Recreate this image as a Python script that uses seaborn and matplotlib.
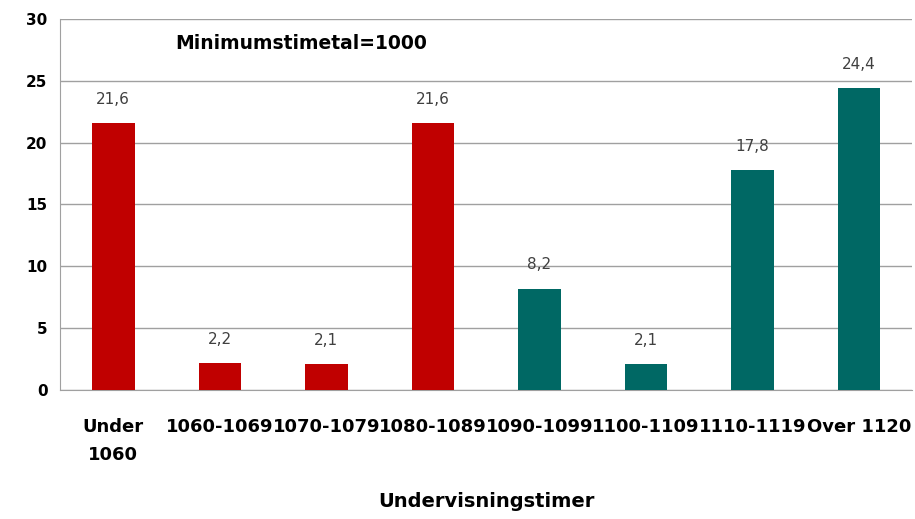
import numpy as np
import pandas as pd
import matplotlib
matplotlib.use("Agg")
import matplotlib.pyplot as plt
import seaborn as sns

# data
categories = ["Under\n1060", "1060-1069", "1070-1079", "1080-1089",
              "1090-1099", "1100-1109", "1110-1119", "Over 1120"]
values = [21.6, 2.2, 2.1, 21.6, 8.2, 2.1, 17.8, 24.4]
groups = ["a", "a", "a", "a", "b", "b", "b", "b"]
labels = ["21,6", "2,2", "2,1", "21,6", "8,2", "2,1", "17,8", "24,4"]

df = pd.DataFrame({"cat": categories, "val": values, "grp": groups})

sns.set_style("white")
plt.rcParams["font.family"] = ["DejaVu Sans"]
plt.rcParams["text.color"] = "black"
plt.rcParams["xtick.color"] = "black"
plt.rcParams["ytick.color"] = "black"
plt.rcParams["axes.labelcolor"] = "black"

fig = plt.figure(figsize=(9.15, 5.19), dpi=100)
ax = fig.add_axes([0.0656, 0.2486, 0.9314, 0.7148])

sns.barplot(data=df, x="cat", y="val", hue="grp",
            palette={"a": "#C00000", "b": "#006864"}, saturation=1,
            dodge=False, width=0.4, legend=False, linewidth=0, ax=ax, zorder=3)

for i, (v, t) in enumerate(zip(values, labels)):
    ax.text(i, v + 1.3, t, ha="center", va="bottom", fontsize=11, color="#404040")

ax.text(0.58, 28.0, "Minimumstimetal=1000", fontsize=13.5, fontweight="bold",
        ha="left", va="center", color="black")

ax.set_ylim(0, 30)
ax.set_xlim(-0.5, 7.5)
ax.set_yticks(np.arange(0, 31, 5))
ax.yaxis.grid(True, color="#a0a0a0", linewidth=1, zorder=0)
ax.set_axisbelow(True)

for s in ["top", "right"]:
    ax.spines[s].set_visible(False)
for s in ["left", "bottom"]:
    ax.spines[s].set_color("#a0a0a0")

ax.tick_params(axis="y", length=6, color="#a0a0a0", labelcolor="black", labelsize=11, pad=3)
ax.tick_params(axis="x", which="major", length=0, labelcolor="black", labelsize=13, pad=20)
ax.set_xticks(np.arange(-0.5, 8, 1), minor=True)
ax.tick_params(axis="x", which="minor", length=6, color="#a0a0a0", direction="out")
for lab in ax.get_xticklabels() + ax.get_yticklabels():
    lab.set_fontweight("bold")
for lab in ax.get_xticklabels():
    lab.set_linespacing(1.75)

ax.set_xlabel("Undervisningstimer", fontsize=14, fontweight="bold", labelpad=20)
ax.set_ylabel("")

fig.savefig("out.png", dpi=100)
